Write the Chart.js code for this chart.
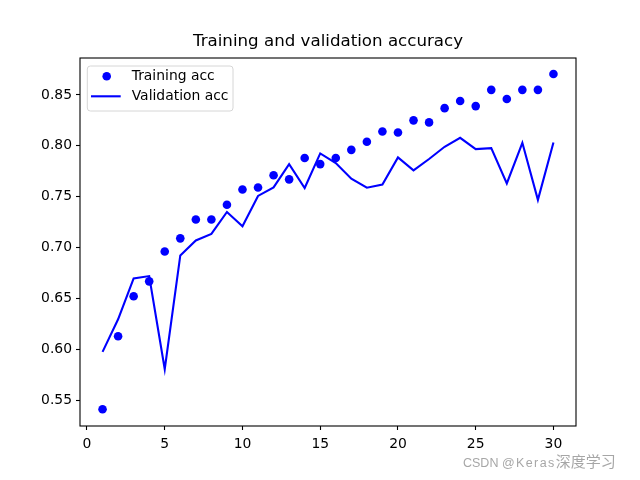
<!DOCTYPE html>
<html>
<head>
<meta charset="utf-8">
<script src="https://cdn.jsdelivr.net/npm/chart.js@4"></script>
<style>
html,body{margin:0;padding:0;background:#fff;}
#wrap{position:relative;width:640px;height:480px;}
#wm{position:absolute;left:463px;top:452px;font-family:"Liberation Sans",Arial,sans-serif;font-size:12.5px;color:rgba(150,150,150,0.85);white-space:nowrap;line-height:18px;}
#wm .k{letter-spacing:1.4px;}
#wm .c{font-family:"Noto Sans CJK SC",sans-serif;font-size:15px;}
</style>
</head>
<body>
<div id="wrap">
<canvas id="c" width="640" height="480"></canvas>
<div id="wm">CSDN <span class="k">@Keras</span><span class="c">深度学习</span></div>
</div>
<script>
const epochs = [1,2,3,4,5,6,7,8,9,10,11,12,13,14,15,16,17,18,19,20,21,22,23,24,25,26,27,28,29,30];
const trainingAcc = [0.541,0.6127,0.652,0.6667,0.696,0.709,0.7275,0.7275,0.742,0.757,0.759,0.771,0.767,0.788,0.782,0.788,0.796,0.804,0.814,0.813,0.825,0.823,0.837,0.844,0.839,0.855,0.846,0.855,0.855,0.8706];
const validationAcc = [0.5974,0.6294,0.6696,0.6719,0.5804,0.6922,0.7069,0.7134,0.7349,0.7209,0.7507,0.7591,0.782,0.7585,0.7925,0.783,0.7676,0.7588,0.7618,0.7885,0.7758,0.787,0.799,0.8078,0.7967,0.7977,0.763,0.8029,0.7468,0.8032];
const xTicks = [0,5,10,15,20,25,30];
const yTicks = [0.55,0.60,0.65,0.70,0.75,0.80,0.85];
const titleText = 'Training and validation accuracy';
const seriesLabels = ['Training acc','Validation acc'];

const FONT = '"DejaVu Sans", sans-serif';

const framePlugin = {
  id: 'frame',
  afterDatasetsDraw(chart) {
    const {ctx, chartArea: a} = chart;
    ctx.save();
    ctx.strokeStyle = '#000';
    ctx.lineWidth = 1.1;
    ctx.strokeRect(a.left, a.top, a.right - a.left, a.bottom - a.top);
    // legend
    const x0 = a.left + 7.3, y0 = a.top + 8, w = 145.7, h = 45, r = 3;
    ctx.beginPath();
    ctx.moveTo(x0 + r, y0);
    ctx.lineTo(x0 + w - r, y0);
    ctx.quadraticCurveTo(x0 + w, y0, x0 + w, y0 + r);
    ctx.lineTo(x0 + w, y0 + h - r);
    ctx.quadraticCurveTo(x0 + w, y0 + h, x0 + w - r, y0 + h);
    ctx.lineTo(x0 + r, y0 + h);
    ctx.quadraticCurveTo(x0, y0 + h, x0, y0 + h - r);
    ctx.lineTo(x0, y0 + r);
    ctx.quadraticCurveTo(x0, y0, x0 + r, y0);
    ctx.closePath();
    ctx.fillStyle = 'rgba(255,255,255,0.8)';
    ctx.fill();
    ctx.strokeStyle = '#d6d6d6';
    ctx.lineWidth = 1;
    ctx.stroke();
    const ds = chart.data.datasets;
    ctx.fillStyle = ds[0].backgroundColor;
    ctx.beginPath();
    ctx.arc(x0 + 19.4, y0 + 10.3, 4.3, 0, Math.PI * 2);
    ctx.fill();
    ctx.strokeStyle = ds[1].borderColor;
    ctx.lineWidth = 2.1;
    ctx.beginPath();
    ctx.moveTo(x0 + 3.7, y0 + 30.3);
    ctx.lineTo(x0 + 33.4, y0 + 30.3);
    ctx.stroke();
    ctx.fillStyle = '#000';
    ctx.font = '13.9px ' + FONT;
    ctx.textBaseline = 'middle';
    ctx.textAlign = 'left';
    ctx.fillText(ds[0].label, x0 + 44.4, y0 + 10.3);
    ctx.fillText(ds[1].label, x0 + 44.4, y0 + 30.3);
    ctx.restore();
  }
};

new Chart(document.getElementById('c'), {
  type: 'scatter',
  data: {
    datasets: [
      {
        label: seriesLabels[0],
        data: epochs.map((e, i) => ({x: e, y: trainingAcc[i]})),
        showLine: false,
        pointRadius: 4.3,
        pointHoverRadius: 4.3,
        backgroundColor: '#0000ff',
        borderWidth: 0,
        pointBorderWidth: 0
      },
      {
        label: seriesLabels[1],
        data: epochs.map((e, i) => ({x: e, y: validationAcc[i]})),
        showLine: true,
        pointRadius: 0,
        borderColor: '#0000ff',
        backgroundColor: '#0000ff',
        borderWidth: 2.1,
        tension: 0,
        fill: false
      }
    ]
  },
  options: {
    responsive: false,
    animation: false,
    devicePixelRatio: 1,
    layout: {padding: {left: 0, right: 64, top: 0, bottom: 0}},
    plugins: {
      legend: {display: false},
      tooltip: {enabled: false},
      title: {
        display: true,
        fullSize: false,
        text: titleText,
        color: '#000',
        font: {family: FONT, size: 16.67, weight: 'normal', lineHeight: 1.2},
        padding: {top: 32, bottom: 6}
      }
    },
    scales: {
      x: {
        type: 'linear',
        min: -0.45,
        max: 31.45,
        afterBuildTicks(scale) { scale.ticks = xTicks.map(v => ({value: v})); },
        afterFit(scale) { scale.height = 54; },
        grid: {display: true, drawOnChartArea: false, drawTicks: true, tickLength: 4, color: '#000', tickWidth: 1.1},
        border: {display: false},
        ticks: {color: '#000', font: {family: FONT, size: 13.9}, padding: 6, maxRotation: 0, autoSkip: false,
          callback: v => String(v)}
      },
      y: {
        type: 'linear',
        min: 0.5245,
        max: 0.8863,
        afterBuildTicks(scale) { scale.ticks = yTicks.map(v => ({value: v})); },
        afterFit(scale) { scale.width = 80; },
        grid: {display: true, drawOnChartArea: false, drawTicks: true, tickLength: 4, color: '#000', tickWidth: 1.1},
        border: {display: false},
        ticks: {color: '#000', font: {family: FONT, size: 13.9}, padding: 4, autoSkip: false,
          callback: v => v.toFixed(2)}
      }
    }
  },
  plugins: [framePlugin]
});
</script>
</body>
</html>
